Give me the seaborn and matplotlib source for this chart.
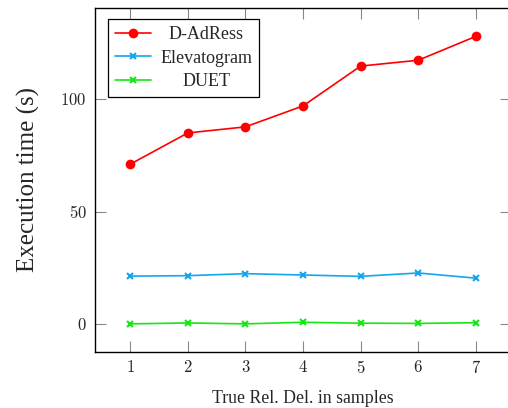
import matplotlib
matplotlib.use("Agg")
import matplotlib.pyplot as plt
from matplotlib.transforms import Bbox
import seaborn as sns
import pandas as pd

samples = [1, 2, 3, 4, 5, 6, 7]
dadress = [71.0, 84.9, 87.6, 96.9, 114.6, 117.2, 127.8]
elevatogram = [21.3, 21.5, 22.4, 21.8, 21.2, 22.7, 20.4]
duet = [0.1, 0.5, 0.1, 0.8, 0.4, 0.3, 0.6]
series_names = ["D-AdRess", "Elevatogram", "DUET"]
yticks = [0, 50, 100]

sns.set_style("white")
plt.rcParams["font.family"] = ["Liberation Serif", "DejaVu Serif"]
plt.rcParams["mathtext.fontset"] = "cm"

df = pd.DataFrame({
    "x": samples * 3,
    "y": dadress + elevatogram + duet,
    "method": [series_names[0]] * 7 + [series_names[1]] * 7 + [series_names[2]] * 7,
})

fig = plt.figure(figsize=(5.08, 4.08), dpi=100)
ax = fig.add_axes([95 / 508, 56 / 408, 416 / 508, 344 / 408])

styles = {
    "D-AdRess": dict(color="#ff0000", marker="o", markersize=7, markeredgewidth=0),
    "Elevatogram": dict(color="#13a6ec", marker="x", markersize=4, markeredgewidth=1.5),
    "DUET": dict(color="#13e813", marker="x", markersize=4, markeredgewidth=1.5),
}
for name in series_names:
    sub = df[df["method"] == name]
    st = styles[name]
    sns.lineplot(data=sub, x="x", y="y", ax=ax, label=name, color=st["color"],
                 marker=st["marker"], markersize=st["markersize"],
                 markeredgewidth=st["markeredgewidth"], markeredgecolor=st["color"],
                 linewidth=1.2)

ax.set_xlim(0.39, 7.61)
ax.set_ylim(-12.4, 140.4)
ax.set_xticks(samples)
ax.set_xticklabels([f"${v}$" for v in samples], fontsize=12)
ax.set_yticks(yticks)
ax.set_yticklabels([f"${v}$" for v in yticks], fontsize=12)
ax.tick_params(direction="in", length=8, width=0.8, color="#888888",
               top=True, right=True, bottom=True, left=True, pad=6)
for s in ax.spines.values():
    s.set_color("black")
    s.set_linewidth(1.0)
    s.set_visible(True)

ax.set_xlabel("True Rel. Del. in samples", fontsize=12.8, labelpad=9)
ax.set_ylabel("Execution time (s)", fontsize=18, labelpad=15)

leg = ax.legend(loc="upper left", bbox_to_anchor=(0.031, 0.968), borderaxespad=0,
                frameon=True, fancybox=False, edgecolor="black", framealpha=1,
                fontsize=13, handlelength=2.0, labelspacing=0.35, borderpad=0.4,
                handletextpad=0.5)
leg.get_frame().set_linewidth(0.9)

# center legend labels (pgfplots style)
fig.canvas.draw()
renderer = fig.canvas.get_renderer()
areas = [hp.get_children()[1]
         for col in leg._legend_handle_box.get_children()
         for hp in col.get_children()]
W = max(a.get_bbox(renderer).width for a in areas)
for a in areas:
    a._text.set_ha("center")
    orig = a.get_bbox

    def new_bbox(rend, orig=orig):
        b = orig(rend)
        return Bbox.from_bounds(-W / 2, b.y0, W, b.height)

    a.get_bbox = new_bbox

fig.savefig("out.png", dpi=100)
